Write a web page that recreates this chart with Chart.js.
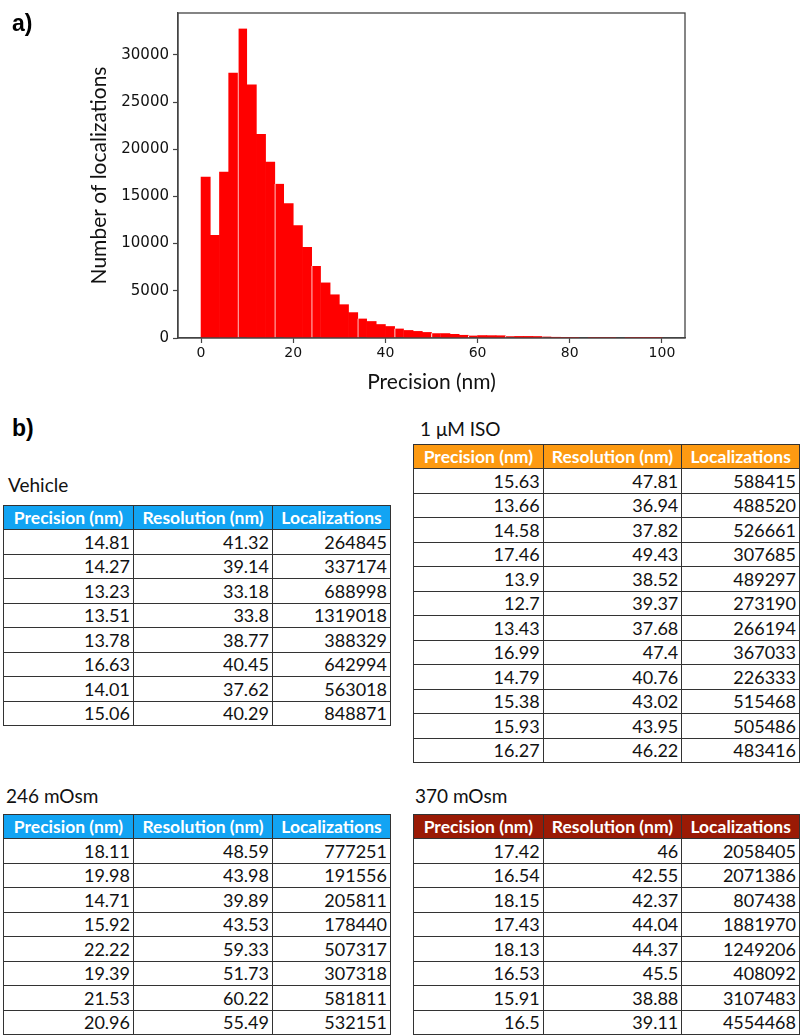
<!DOCTYPE html>
<html>
<head>
<meta charset="utf-8">
<script src="https://cdn.jsdelivr.net/npm/chart.js@4.4.0/dist/chart.umd.min.js"></script>
<style>
  html, body { margin: 0; padding: 0; background: #fff; }
  body { width: 800px; height: 1036px; position: relative; overflow: hidden; }
  #histWrap { position: absolute; left: 0; top: 0; width: 800px; height: 400px; }
  .panel { position: absolute; font: bold 23px "Liberation Sans", Arial, sans-serif; color: #000; }
  .caption { position: absolute; font: 19px Lato, sans-serif; color: #111; white-space: nowrap; }
  table.res { position: absolute; border-collapse: collapse; font: 18px Lato, sans-serif; color: #111; table-layout: fixed; }
  table.res th { color: #fff; font-weight: bold; font-size: 17.5px; height: 24px; padding: 0; text-align: center; border: 1px solid #333; box-sizing: border-box; white-space: nowrap; }
  table.res td { height: 24.5px; padding: 0 3px 0 0; text-align: right; border: 1px solid #333; box-sizing: border-box; }
</style>
</head>
<body>
<div id="histWrap"><canvas id="hist" width="800" height="400"></canvas></div>
<div class="panel" style="left:12px; top:10px;">a)</div>
<div class="panel" style="left:12px; top:415px;">b)</div>
<script>
// histogram: 2 nm bins from 0 to 100 nm
const binCenters = [1, 3, 5, 7, 9, 11, 13, 15, 17, 19, 21, 23, 25, 27, 29, 31, 33, 35, 37, 39,
  41, 43, 45, 47, 49, 51, 53, 55, 57, 59, 61, 63, 65, 67, 69, 71, 73, 75, 77, 79,
  81, 83, 85, 87, 89, 91, 93, 95, 97, 99];
const counts = [17060, 10870, 17580, 28070, 32790, 26810, 21570, 18630, 16330, 14230,
  11920, 9610, 7620, 5840, 4580, 3530, 2690, 2060, 1750, 1430,
  1220, 1010, 800, 700, 590, 500, 470, 390, 290, 260,
  260, 250, 240, 180, 170, 170, 160, 150, 80, 70,
  70, 60, 60, 50, 50, 40, 40, 30, 30, 20];
const xTicks = [0, 20, 40, 60, 80, 100];
const yTicks = [0, 5000, 10000, 15000, 20000, 25000, 30000];

// tables
const columns = ['Precision (nm)', 'Resolution (nm)', 'Localizations'];
const vehiclePrecision = ['14.81', '14.27', '13.23', '13.51', '13.78', '16.63', '14.01', '15.06'];
const vehicleResolution = ['41.32', '39.14', '33.18', '33.8', '38.77', '40.45', '37.62', '40.29'];
const vehicleLocs = ['264845', '337174', '688998', '1319018', '388329', '642994', '563018', '848871'];
const isoPrecision = ['15.63', '13.66', '14.58', '17.46', '13.9', '12.7', '13.43', '16.99', '14.79', '15.38', '15.93', '16.27'];
const isoResolution = ['47.81', '36.94', '37.82', '49.43', '38.52', '39.37', '37.68', '47.4', '40.76', '43.02', '43.95', '46.22'];
const isoLocs = ['588415', '488520', '526661', '307685', '489297', '273190', '266194', '367033', '226333', '515468', '505486', '483416'];
const hypoPrecision = ['18.11', '19.98', '14.71', '15.92', '22.22', '19.39', '21.53', '20.96'];
const hypoResolution = ['48.59', '43.98', '39.89', '43.53', '59.33', '51.73', '60.22', '55.49'];
const hypoLocs = ['777251', '191556', '205811', '178440', '507317', '307318', '581811', '532151'];
const hyperPrecision = ['17.42', '16.54', '18.15', '17.43', '18.13', '16.53', '15.91', '16.5'];
const hyperResolution = ['46', '42.55', '42.37', '44.04', '44.37', '45.5', '38.88', '39.11'];
const hyperLocs = ['2058405', '2071386', '807438', '1881970', '1249206', '408092', '3107483', '4554468'];

// thin white seams between some bars, as in the original raster
const seamBins = [4, 8, 12, 17, 21, 25, 29, 33, 37, 41, 45];

// frame around the plot area like matplotlib spines
const framePlugin = {
  id: 'frame',
  afterDatasetsDraw(chart) {
    const a = chart.chartArea, ctx = chart.ctx;
    ctx.save();
    ctx.strokeStyle = '#444';
    ctx.lineWidth = 1.3;
    ctx.strokeRect(a.left, a.top, a.right - a.left, a.bottom - a.top);
    ctx.restore();
  }
};

const titleFont = { family: 'Lato', size: 21 };

new Chart(document.getElementById('hist'), {
  type: 'bar',
  data: {
    datasets: [{
      data: binCenters.map((x, i) => ({ x: x, y: counts[i] })),
      backgroundColor: '#ff0000',
      borderColor: '#ffffff',
      borderWidth: ctx => seamBins.includes(ctx.dataIndex) ? { left: 1, top: 0, right: 0, bottom: 0 } : 0,
      borderSkipped: false,
      barPercentage: 1.0,
      categoryPercentage: 1.0
    }]
  },
  options: {
    responsive: false,
    animation: false,
    devicePixelRatio: 1,
    layout: { padding: { top: 9, right: 115, left: 0, bottom: 0 } },
    plugins: { legend: { display: false }, tooltip: { enabled: false } },
    scales: {
      x: {
        type: 'linear',
        offset: false,
        min: -5,
        max: 105,
        afterBuildTicks: s => { s.ticks = xTicks.map(v => ({ value: v })); },
        afterFit: s => { s.height = 62; },
        ticks: { font: { family: 'DejaVu Sans', size: 14 }, color: '#111', padding: 2, maxRotation: 0, callback: v => String(v) },
        grid: { offset: false, drawOnChartArea: false, tickLength: 5, color: '#444', tickWidth: 1.2 },
        border: { color: '#444', width: 1.3 },
        title: { display: true, text: 'Precision (nm)', font: titleFont, color: '#111', padding: { top: 0, bottom: 5 } }
      },
      y: {
        min: 0,
        max: 34430,
        afterBuildTicks: s => { s.ticks = yTicks.map(v => ({ value: v })); },
        afterFit: s => { s.width = 178; },
        ticks: { font: { family: 'DejaVu Sans', size: 15 }, color: '#111', padding: 4, callback: v => String(v) },
        grid: { drawOnChartArea: false, tickLength: 5, color: '#444', tickWidth: 1.2 },
        border: { color: '#444', width: 1.3 },
        title: { display: true, text: 'Number of localizations', font: titleFont, color: '#111', padding: { top: 87, bottom: 0 } }
      }
    }
  },
  plugins: [framePlugin]
});

function makeTable(caption, capLeft, capTop, left, top, color, prec, resol, locs) {
  const cap = document.createElement('div');
  cap.className = 'caption';
  cap.style.left = capLeft + 'px';
  cap.style.top = capTop + 'px';
  cap.textContent = caption;
  document.body.appendChild(cap);

  const t = document.createElement('table');
  t.className = 'res';
  t.style.left = left + 'px';
  t.style.top = top + 'px';
  const widths = [130, 139, 118];
  const colgroup = document.createElement('colgroup');
  widths.forEach(w => { const c = document.createElement('col'); c.style.width = w + 'px'; colgroup.appendChild(c); });
  t.appendChild(colgroup);
  const hr = document.createElement('tr');
  columns.forEach(c => {
    const th = document.createElement('th');
    th.textContent = c;
    th.style.background = color;
    hr.appendChild(th);
  });
  t.appendChild(hr);
  prec.forEach((p, i) => {
    const tr = document.createElement('tr');
    [p, resol[i], locs[i]].forEach(v => {
      const td = document.createElement('td');
      td.textContent = v;
      tr.appendChild(td);
    });
    t.appendChild(tr);
  });
  document.body.appendChild(t);
}

makeTable('Vehicle', 8, 473, 3, 505, '#12a4f3', vehiclePrecision, vehicleResolution, vehicleLocs);
makeTable('1 \u03bcM ISO', 420, 417, 413, 444, '#fd9a12', isoPrecision, isoResolution, isoLocs);
makeTable('246 mOsm', 6, 784, 3, 814, '#12a4f3', hypoPrecision, hypoResolution, hypoLocs);
makeTable('370 mOsm', 415, 784, 413, 814, '#9a1a05', hyperPrecision, hyperResolution, hyperLocs);
</script>
</body>
</html>
